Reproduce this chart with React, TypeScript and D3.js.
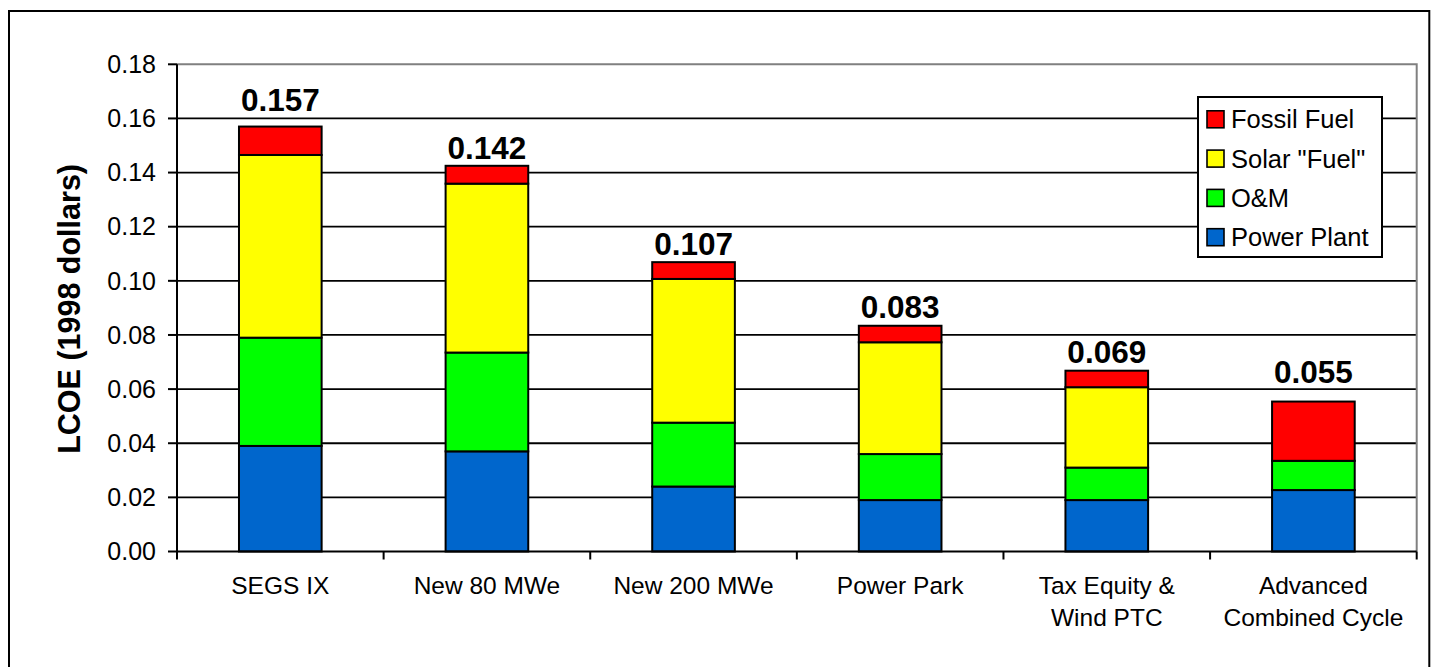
import React from "react";
import * as d3 from "d3";

const categoryLines: string[][] = [
  ["SEGS IX"],
  ["New 80 MWe"],
  ["New 200 MWe"],
  ["Power Park"],
  ["Tax Equity &", "Wind PTC"],
  ["Advanced", "Combined Cycle"],
];
const categories = categoryLines.map((l) => l.join(" "));

const powerPlant = [0.039, 0.037, 0.024, 0.019, 0.019, 0.0227];
const oAndM = [0.04, 0.0365, 0.0236, 0.017, 0.012, 0.0108];
const solarFuel = [0.0675, 0.0624, 0.0531, 0.0413, 0.0297, 0];
const fossilFuel = [0.0105, 0.0066, 0.0062, 0.0061, 0.0061, 0.0219];

const totalLabels = ["0.157", "0.142", "0.107", "0.083", "0.069", "0.055"];
const labelAnchor = [0.1628, 0.145, 0.1096, 0.0863, 0.0697, 0.0622];

const yTicks = [0, 0.02, 0.04, 0.06, 0.08, 0.1, 0.12, 0.14, 0.16, 0.18];

const seriesKeys = ["Power Plant", "O&M", 'Solar "Fuel"', "Fossil Fuel"];
const seriesColors = ["#0066CC", "#00FF00", "#FFFF00", "#FF0000"];
const seriesValues = [powerPlant, oAndM, solarFuel, fossilFuel];

const FONT = '"Liberation Sans", Arial, Helvetica, sans-serif';

export default function App() {
  const left = 177;
  const right = 1416.7;
  const top = 64.3;
  const bottom = 551.5;

  const x = d3
    .scaleBand<string>()
    .domain(categories)
    .range([left, right])
    .paddingInner(0.6)
    .paddingOuter(0.3);
  const y = d3.scaleLinear().domain([0, 0.18]).range([bottom, top]);

  const rows = categories.map((c, i) => {
    const r: any = { cat: c };
    seriesKeys.forEach((k, j) => (r[k] = seriesValues[j][i]));
    return r;
  });
  const stacked = d3.stack<any>().keys(seriesKeys)(rows);

  const step = (right - left) / categories.length;
  const boundaries = d3.range(categories.length + 1).map((i) => left + i * step);

  const legendOrder = [3, 2, 1, 0];
  const legendX = 1198;
  const legendY = 97;
  const legendW = 184;
  const legendH = 160;
  const legendRowH = 39.3;

  return (
    <svg
      width={1435}
      height={667}
      style={{ position: "absolute", left: 0, top: 0, background: "#fff" }}
      fontFamily={FONT}
    >
      <rect x={0} y={0} width={1435} height={667} fill="#fff" />
      {/* outer chart border */}
      <rect x={9} y={11} width={1420.3} height={680} fill="none" stroke="#000" strokeWidth={2} />

      {/* gridlines */}
      {yTicks
        .filter((t) => t > 0 && t < 0.18)
        .map((t) => (
          <line key={"g" + t} x1={left} x2={right} y1={y(t)} y2={y(t)} stroke="#000" strokeWidth={1.8} />
        ))}
      {/* plot area gray border top/right */}
      <polyline
        points={`${left},${y(0.18)} ${right},${y(0.18)} ${right},${bottom}`}
        fill="none"
        stroke="#808080"
        strokeWidth={2}
      />

      {/* bars */}
      {stacked.map((s, j) => (
        <g key={s.key}>
          {s.map((d, i) => {
            const h = y(d[0]) - y(d[1]);
            if (h <= 0.01) return null;
            return (
              <rect
                key={i}
                x={x(categories[i])!}
                y={y(d[1])}
                width={x.bandwidth()}
                height={h}
                fill={seriesColors[j]}
                stroke="#000"
                strokeWidth={2}
              />
            );
          })}
        </g>
      ))}

      {/* axes */}
      <line x1={left} x2={left} y1={y(0.18)} y2={bottom} stroke="#000" strokeWidth={2} />
      <line x1={left} x2={right} y1={bottom} y2={bottom} stroke="#000" strokeWidth={2} />
      {yTicks.map((t) => (
        <g key={"t" + t}>
          <line x1={left - 9} x2={left} y1={y(t)} y2={y(t)} stroke="#000" strokeWidth={2} />
          <text x={156} y={y(t)} dy="0.35em" textAnchor="end" fontSize={25} fill="#000">
            {d3.format(".2f")(t)}
          </text>
        </g>
      ))}
      {boundaries.map((b, i) => (
        <line key={"b" + i} x1={b} x2={b} y1={bottom} y2={bottom + 8} stroke="#000" strokeWidth={2} />
      ))}

      {/* category labels */}
      {categoryLines.map((lines, i) => {
        const cx = x(categories[i])! + x.bandwidth() / 2;
        return (
          <text key={"c" + i} x={cx} y={594} textAnchor="middle" fontSize={24.5} fill="#000">
            {lines.map((ln, k) => (
              <tspan key={k} x={cx} dy={k === 0 ? 0 : 31.5}>
                {ln}
              </tspan>
            ))}
          </text>
        );
      })}

      {/* total labels */}
      {totalLabels.map((lbl, i) => (
        <text
          key={"v" + i}
          x={x(categories[i])! + x.bandwidth() / 2}
          y={y(labelAnchor[i])}
          textAnchor="middle"
          fontSize={31.5}
          fontWeight="bold"
          fill="#000"
        >
          {lbl}
        </text>
      ))}

      {/* y title */}
      <text
        transform={`translate(80,${(top + bottom) / 2 + 1}) rotate(-90)`}
        textAnchor="middle"
        fontSize={30.5}
        fontWeight="bold"
        fill="#000"
      >
        LCOE (1998 dollars)
      </text>

      {/* legend */}
      <rect x={legendX} y={legendY} width={legendW} height={legendH} fill="#fff" stroke="#000" strokeWidth={2} />
      {legendOrder.map((j, k) => {
        const cy = legendY + 22.3 + k * legendRowH;
        return (
          <g key={"l" + j}>
            <rect x={1207} y={cy - 8.5} width={17} height={17} fill={seriesColors[j]} stroke="#000" strokeWidth={1.6} />
            <text x={1231} y={cy} dy="0.35em" fontSize={25.5} fill="#000">
              {seriesKeys[j]}
            </text>
          </g>
        );
      })}
    </svg>
  );
}
